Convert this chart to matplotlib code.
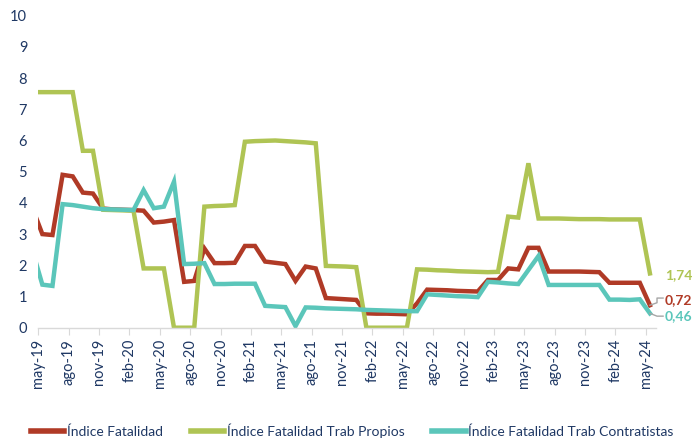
import matplotlib
matplotlib.use("Agg")
import matplotlib.pyplot as plt
import numpy as np

plt.rcParams['font.family'] = ['Lato', 'DejaVu Sans']

# Monthly values: first entry is abr-19 (partly off the left edge), then may-19 ... may-24
fatalidad = [3.85,
    3.00, 2.97, 4.90, 4.85, 4.33, 4.30, 3.82, 3.79, 3.78, 3.77,
    3.75, 3.37, 3.40, 3.45, 1.47, 1.50, 2.54, 2.07, 2.07, 2.08,
    2.62, 2.62, 2.12, 2.08, 2.04, 1.50, 1.96, 1.90, 0.95, 0.93,
    0.91, 0.89, 0.46, 0.45, 0.45, 0.44, 0.43, 0.78, 1.22, 1.21,
    1.20, 1.18, 1.17, 1.16, 1.53, 1.53, 1.90, 1.87, 2.56, 2.56,
    1.80, 1.80, 1.80, 1.80, 1.79, 1.78, 1.44, 1.44, 1.44, 1.44,
    0.72]
propios = [7.55,
    7.55, 7.55, 7.55, 7.55, 5.67, 5.67, 3.78, 3.77, 3.76, 3.75,
    1.90, 1.90, 1.90, 0.00, 0.00, 0.00, 3.88, 3.90, 3.91, 3.93,
    5.96, 5.98, 5.99, 6.00, 5.98, 5.96, 5.94, 5.91, 1.98, 1.97,
    1.96, 1.94, 0.00, 0.00, 0.00, 0.00, 0.00, 1.87, 1.86, 1.84,
    1.83, 1.81, 1.80, 1.79, 1.78, 1.79, 3.56, 3.53, 5.27, 3.50,
    3.50, 3.50, 3.49, 3.48, 3.48, 3.48, 3.47, 3.47, 3.47, 3.47,
    1.74]
contratistas = [2.50,
    1.38, 1.34, 3.96, 3.93, 3.88, 3.83, 3.80, 3.79, 3.78, 3.77,
    4.41, 3.83, 3.88, 4.68, 2.04, 2.05, 2.07, 1.40, 1.40, 1.41,
    1.41, 1.41, 0.70, 0.68, 0.66, 0.05, 0.65, 0.64, 0.62, 0.61,
    0.60, 0.59, 0.57, 0.56, 0.55, 0.54, 0.53, 0.53, 1.07, 1.05,
    1.03, 1.01, 1.00, 0.98, 1.47, 1.45, 1.42, 1.40, 1.85, 2.30,
    1.37, 1.37, 1.37, 1.37, 1.37, 1.37, 0.90, 0.90, 0.89, 0.91,
    0.46]

tick_labels = ["may-19", "ago-19", "nov-19", "feb-20", "may-20", "ago-20", "nov-20",
               "feb-21", "may-21", "ago-21", "nov-21", "feb-22", "may-22", "ago-22",
               "nov-22", "feb-23", "may-23", "ago-23", "nov-23", "feb-24", "may-24"]

series_names = ["Índice Fatalidad", "Índice Fatalidad Trab Propios",
                "Índice Fatalidad Trab Contratistas"]
end_labels = ["0,72", "1,74", "0,46"]

c_red = "#B03A26"
c_green = "#AFC454"
c_cyan = "#5BC6BA"
navy = "#1F3864"

fig = plt.figure(figsize=(6.94, 4.40), dpi=100)
ax = fig.add_axes([38.3 / 694, 1 - 327.7 / 440, (656 - 38.3) / 694, (327.7 - 15.7) / 440])

x = np.arange(len(fatalidad)) - 1 + 0.4
lw = 3.2
l1, = ax.plot(x, fatalidad, color=c_red, lw=lw, solid_joinstyle='miter', label=series_names[0])
l2, = ax.plot(x, propios, color=c_green, lw=lw, solid_joinstyle='miter', label=series_names[1])
l3, = ax.plot(x, contratistas, color=c_cyan, lw=lw, solid_joinstyle='miter', label=series_names[2])

ax.set_xlim(0, 61)
ax.set_ylim(0, 10)
ax.set_yticks(range(0, 11))
ax.set_xticks(np.arange(0, 61, 3))
ax.set_xticklabels(tick_labels, rotation=90, fontsize=10.5, color=navy)
ax.tick_params(axis='y', length=0, labelsize=10.5, labelcolor=navy, pad=8)
ax.tick_params(axis='x', direction='out', length=5, color="#D9D9D9", pad=3)
for s in ['top', 'right', 'left']:
    ax.spines[s].set_visible(False)
ax.spines['bottom'].set_color("#D9D9D9")
ax.spines['bottom'].set_linewidth(1)

# end-point labels
xe = x[-1]
ax.text(61.9, 1.69, end_labels[1], color=c_green, fontsize=10, fontweight='bold',
        va='center', ha='left', clip_on=False)
ax.text(61.9, 0.89, end_labels[0], color=c_red, fontsize=10, fontweight='bold',
        va='center', ha='left', clip_on=False)
ax.text(61.9, 0.36, end_labels[2], color=c_cyan, fontsize=10, fontweight='bold',
        va='center', ha='left', clip_on=False)
# leader lines
ax.plot([xe, 61.1, 61.1, 61.7], [fatalidad[-1], 0.8, 0.95, 0.95], color="#A6A6A6",
        lw=1, clip_on=False)
ax.plot([xe, 61.1, 61.7], [contratistas[-1], 0.37, 0.37], color="#A6A6A6",
        lw=1, clip_on=False)

fig.legend(handles=[l1, l2, l3], loc='center left', bbox_to_anchor=(28 / 694, 1 - 431 / 440),
           ncol=3, frameon=False, fontsize=10, handlelength=2.4, handletextpad=0.2,
           columnspacing=2.0, labelcolor=navy, borderaxespad=0, borderpad=0.2)
for h in fig.legends[0].legend_handles:
    h.set_linewidth(4)

fig.savefig("out.png", dpi=100)
